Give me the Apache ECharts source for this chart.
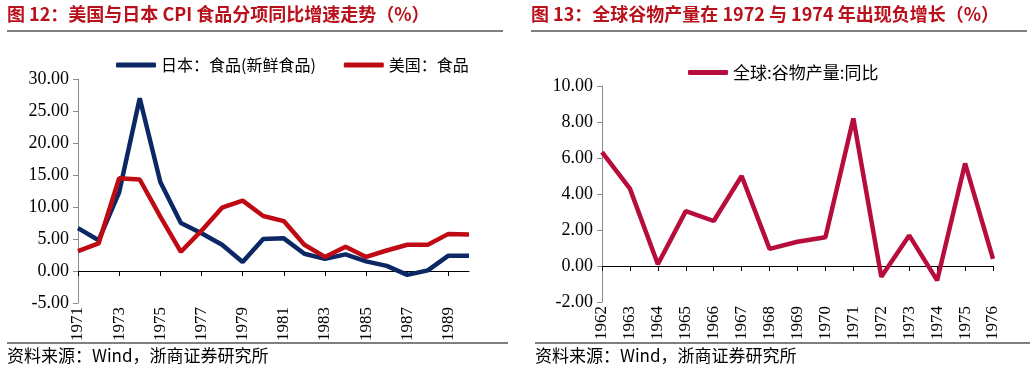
<!DOCTYPE html>
<html>
<head>
<meta charset="utf-8">
<script src="https://cdn.jsdelivr.net/npm/echarts@6/dist/echarts.min.js"></script>
<style>
  html, body { margin: 0; padding: 0; background: #fff; }
  #main { width: 1035px; height: 377px; }
</style>
</head>
<body>
<div id="main"></div>
<script>
var yearsLeft = ['1971','1972','1973','1974','1975','1976','1977','1978','1979','1980',
  '1981','1982','1983','1984','1985','1986','1987','1988','1989','1990'];
var japanFood = [6.7, 4.8, 12.3, 27.0, 13.9, 7.5, 5.9, 4.1, 1.4, 5.0,
  5.1, 2.7, 1.9, 2.6, 1.5, 0.8, -0.6, 0.1, 2.4, 2.4];
var usFood = [3.1, 4.3, 14.5, 14.3, 8.5, 3.0, 6.3, 9.9, 11.0, 8.6,
  7.8, 4.1, 2.2, 3.8, 2.2, 3.2, 4.1, 4.1, 5.8, 5.7];

var yearsRight = ['1962','1963','1964','1965','1966','1967','1968','1969','1970',
  '1971','1972','1973','1974','1975','1976'];
var grainYoY = [6.33, 4.3, 0.1, 3.05, 2.5, 5.0, 0.95, 1.35, 1.6,
  8.2, -0.6, 1.7, -0.8, 5.7, 0.4];

var titleLeft = '图 12：美国与日本 CPI 食品分项同比增速走势（%）';
var titleRight = '图 13：全球谷物产量在 1972 与 1974 年出现负增长（%）';
var sourceText = '资料来源：Wind，浙商证券研究所';

var serif = '"Liberation Serif", "Times New Roman", "Noto Sans CJK SC", serif';
var cjk = '"Noto Sans CJK SC", sans-serif';
var titleColor = '#b8111b';

var chart = echarts.init(document.getElementById('main'));

function yAxisCfg(grid, min, max, step) {
  return {
    type: 'value', gridIndex: grid, min: min, max: max, interval: step,
    axisLine: { show: true, lineStyle: { color: '#8c8c8c', width: 1 } },
    axisTick: { show: true, length: 5, lineStyle: { color: '#8c8c8c' } },
    splitLine: { show: false },
    axisLabel: {
      color: '#000', fontFamily: serif, fontSize: 18, margin: 9,
      formatter: function (v) { return v.toFixed(2); }
    }
  };
}

function xAxisCfg(grid, data, every) {
  return {
    type: 'category', gridIndex: grid, data: data, boundaryGap: false,
    axisLine: { onZero: true, lineStyle: { color: '#000', width: 1 } },
    axisTick: { show: true, interval: every, length: 5, inside: false, lineStyle: { color: '#000' } },
    axisLabel: {
      interval: every, rotate: 90, color: '#000', fontFamily: serif, fontSize: 17, margin: 4
    }
  };
}

var option = {
  animation: false,
  textStyle: { fontFamily: cjk },
  grid: [
    { left: 78, top: 79, width: 391, height: 224 },
    { left: 602, top: 86, width: 391, height: 216 }
  ],
  legend: [
    {
      left: 111, top: 52, itemWidth: 40, itemHeight: 5, itemGap: 28,
      icon: 'roundRect',
      textStyle: { fontFamily: cjk, fontSize: 16, color: '#000' },
      data: ['日本：食品(新鲜食品)', '美国：食品']
    },
    {
      left: 683, top: 59, itemWidth: 40, itemHeight: 5,
      icon: 'roundRect',
      textStyle: { fontFamily: cjk, fontSize: 17, color: '#000' },
      data: ['全球:谷物产量:同比']
    }
  ],
  xAxis: [xAxisCfg(0, yearsLeft, 1), xAxisCfg(1, yearsRight, 0)],
  yAxis: [yAxisCfg(0, -5, 30, 5), yAxisCfg(1, -2, 10, 2)],
  series: [
    {
      name: '日本：食品(新鲜食品)', type: 'line', xAxisIndex: 0, yAxisIndex: 0,
      data: japanFood, symbol: 'none', color: '#0b2865',
      lineStyle: { width: 4.5, color: '#0b2865' }
    },
    {
      name: '美国：食品', type: 'line', xAxisIndex: 0, yAxisIndex: 0,
      data: usFood, symbol: 'none', color: '#bf0a14',
      lineStyle: { width: 4.5, color: '#bf0a14' }
    },
    {
      name: '全球:谷物产量:同比', type: 'line', xAxisIndex: 1, yAxisIndex: 1,
      data: grainYoY, symbol: 'none', color: '#b60d3c',
      lineStyle: { width: 4.5, color: '#b60d3c' }
    }
  ],
  graphic: [
    { type: 'text', left: 7, top: 5, style: { text: titleLeft, fontFamily: cjk, fontWeight: 'bold', fontSize: 18, fill: titleColor } },
    { type: 'text', left: 531, top: 5, style: { text: titleRight, fontFamily: cjk, fontWeight: 'bold', fontSize: 18, fill: titleColor } },
    { type: 'line', shape: { x1: 7, y1: 31, x2: 503, y2: 31 }, style: { stroke: '#000', lineWidth: 1.2 } },
    { type: 'line', shape: { x1: 531, y1: 31, x2: 1027, y2: 31 }, style: { stroke: '#000', lineWidth: 1.2 } },
    { type: 'line', shape: { x1: 7, y1: 343, x2: 508, y2: 343 }, style: { stroke: '#000', lineWidth: 1.2 } },
    { type: 'line', shape: { x1: 535, y1: 343, x2: 1030, y2: 343 }, style: { stroke: '#000', lineWidth: 1.2 } },
    { type: 'text', left: 7, top: 347, style: { text: sourceText, fontFamily: cjk, fontSize: 17, fill: '#000' } },
    { type: 'text', left: 535, top: 347, style: { text: sourceText, fontFamily: cjk, fontSize: 17, fill: '#000' } }
  ]
};

chart.setOption(option);
</script>
</body>
</html>
